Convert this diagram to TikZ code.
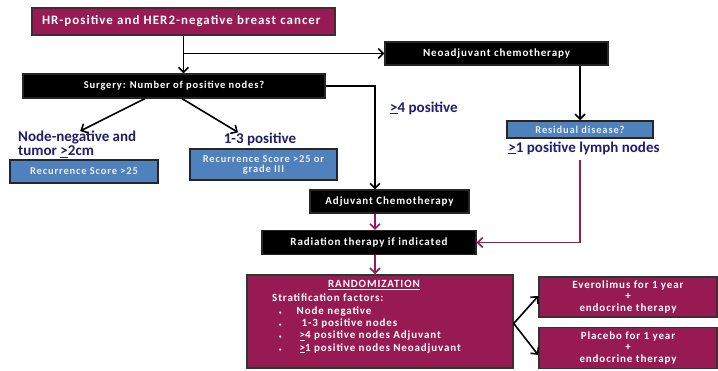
\documentclass[tikz,border=0pt]{standalone}
\usepackage{fontspec}
\setmainfont{Carlito}
\newfontfamily\widefont{Carlito}[LetterSpace=8]
\usepackage{tikz}
\usetikzlibrary{arrows.meta}
\definecolor{plum}{RGB}{152,26,82}
\definecolor{boxblue}{RGB}{79,129,189}
\definecolor{navy}{RGB}{30,30,110}

\begin{document}
\begin{tikzpicture}[x=1pt, y=-1pt, >={Straight Barb[length=5pt, width=10pt]},
    darkbox/.style={draw=black!85, line width=1.2, fill=black, text=white,
      font=\widefont\bfseries\fontsize{11}{12}\selectfont, inner sep=0},
    plumbox/.style={draw=black!80, line width=1.5, fill=plum, text=white,
      font=\widefont\bfseries\fontsize{11}{11.5}\selectfont, inner sep=0, align=center},
    bluebox/.style={draw=black!85, line width=1.5, fill=boxblue, text=white!92!black,
      font=\widefont\bfseries\fontsize{10.5}{10}\selectfont, inner sep=0, align=center},
    navylabel/.style={text=navy, font=\bfseries\fontsize{15}{14}\selectfont, inner sep=0},
    blk/.style={->, line width=1.6},
    plm/.style={->, line width=1.6, draw=plum}]
    \useasboundingbox[fill=white] (0,0) rectangle (718,371);

    \node[plumbox, minimum height=27pt, text width=283pt, inner xsep=10pt, align=left,
      font=\widefont\bfseries\fontsize{12.9}{13}\selectfont] (cancer) at (183.5,21.5)
      {\mbox{HR-positive and HER2-negative breast cancer}};
    \node[darkbox, minimum width=302pt, minimum height=24pt,
      font=\widefont\bfseries\fontsize{10.5}{12}\selectfont] (surgery) at (174,86)
      {Surgery: Number of positive nodes?};
    \node[darkbox, minimum width=223pt, minimum height=23pt] (neo) at (496.5,53.5)
      {Neoadjuvant chemotherapy};
    \node[bluebox, minimum width=146pt, minimum height=17pt] (resid) at (580,129.5)
      {Residual disease?};

    \node[navylabel, align=left, anchor=north west] (nneg) at (18,131)
      {Node-negative and\\tumor \underline{>}2cm};
    \node[navylabel] (pos13) at (260,139) {1-3 positive};
    \node[navylabel, anchor=west] (pos4) at (390,108) {\underline{>}4 positive};
    \node[navylabel] (pos1) at (584,148) {\underline{>}1 positive lymph nodes};

    \node[bluebox, minimum width=148pt, minimum height=23pt] (rs1) at (84,171.5)
      {Recurrence Score >25};
    \node[bluebox, minimum width=147pt, minimum height=31pt] (rs2) at (263.5,164.5)
      {Recurrence Score >25 or\\grade III};

    \node[darkbox, minimum width=159pt, minimum height=23pt] (adj) at (389.5,201.5)
      {Adjuvant Chemotherapy};
    \node[darkbox, minimum width=214pt, minimum height=24pt] (rad) at (369,242.5)
      {Radiation therapy if indicated};

    \node[plumbox, minimum width=266pt, minimum height=93pt] (rando) at (380,321.5) {};
    \node[text=white, font=\widefont\bfseries\fontsize{11}{12}\selectfont, inner sep=0]
      (randotitle) at (374,285) {\underline{RANDOMIZATION}};
    \node[text=white, font=\widefont\bfseries\fontsize{11}{12.3}\selectfont, inner sep=0,
      align=left, anchor=north west] (strat) at (272,294)
      {Stratification factors:\\
       \hspace{7pt}{\tiny\textbullet}\hspace{15pt}Node negative\\
       \hspace{7pt}{\tiny\textbullet}\hspace{20pt}1-3 positive nodes\\
       \hspace{7pt}{\tiny\textbullet}\hspace{18pt}\underline{>}4 positive nodes Adjuvant\\
       \hspace{7pt}{\tiny\textbullet}\hspace{18pt}\underline{>}1 positive nodes Neoadjuvant};

    \node[plumbox, minimum width=178pt, minimum height=40pt] (evero) at (628,297)
      {Everolimus for 1 year\\+\\endocrine therapy};
    \node[plumbox, minimum width=178pt, minimum height=41pt] (placebo) at (628,348)
      {Placebo for 1 year\\+\\endocrine therapy};

    \coordinate (drop) at (375,86);

    \draw[blk] (cancer.south) -- (cancer.south |- surgery.north);
    \draw[blk] (cancer.south |- neo.west) -- (neo.west);
    \draw[blk] (surgery.east) -- (drop) -- (drop |- adj.north);
    \draw[blk] ([xshift=-29pt]surgery.south) -- ([xshift=3pt]nneg.north);
    \draw[blk] ([xshift=8pt]surgery.south) -- ([xshift=-22pt]pos13.north);
    \draw[blk] (resid.north |- neo.south) -- (resid.north);

    \draw[plm] ([yshift=-5pt]resid.south |- pos1.south) |- (rad.east);
    \draw[plm] (drop |- adj.south) -- (drop |- rad.north);
    \draw[plm] (drop |- rad.south) -- (drop |- rando.north);

    \draw[blk] ([yshift=-2pt]rando.east) -- ([yshift=1pt]evero.west);
    \draw[blk] ([yshift=-2pt]rando.east) -- ([yshift=-7pt]placebo.west);
  \end{tikzpicture}
\end{document}
